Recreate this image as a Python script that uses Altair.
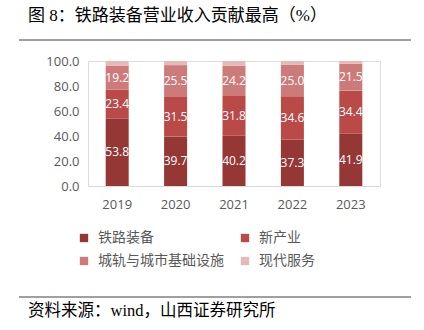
import altair as alt
import pandas as pd

years = ["2019", "2020", "2021", "2022", "2023"]
series = ["铁路装备", "新产业", "城轨与城市基础设施", "现代服务"]
rail = [53.8, 39.7, 40.2, 37.3, 41.9]
new_ind = [23.4, 31.5, 31.8, 34.6, 34.4]
urban = [19.2, 25.5, 24.2, 25.0, 21.5]
modern = [3.6, 3.3, 3.8, 3.1, 2.2]
colors = ["#953735", "#b94a48", "#cd7b7a", "#e6b9b8"]

title_text = "图 8：铁路装备营业收入贡献最高（%）"
source_text = "资料来源：wind，山西证券研究所"

rows = []
for i, y in enumerate(years):
    for j, (s, vals) in enumerate(zip(series, [rail, new_ind, urban, modern])):
        rows.append({"year": y, "series": s, "value": vals[i], "order": j,
                     "show": 1 if j < 3 else 0})
df = pd.DataFrame(rows)

PL, PT, W, H = 88, 61, 292, 125
cjk = "Liberation Serif, Noto Sans CJK SC"
num = "Open Sans, Noto Sans CJK SC"

xscale = alt.Scale(paddingInner=0.6, paddingOuter=0.3)
yscale = alt.Scale(domain=[0, 100])
xaxis = alt.Axis(labelAngle=0, labelFont=num, labelFontSize=13,
                 labelColor="#595959", domainColor="#d9d9d9",
                 ticks=False, labelPadding=12)
yaxis = alt.Axis(values=[0, 20, 40, 60, 80, 100], format=".1f",
                 grid=False, domain=False, ticks=False, labelOverlap=False,
                 labelFont=num, labelFontSize=13, labelColor="#595959",
                 labelPadding=9)

base = alt.Chart(df)

bars = base.mark_bar(size=23).encode(
    x=alt.X("year:N", sort=years, title=None, scale=xscale, axis=xaxis),
    y=alt.Y("value:Q", stack="zero", title=None, scale=yscale, axis=yaxis),
    color=alt.Color("series:N", sort=series,
                    scale=alt.Scale(domain=series, range=colors),
                    legend=alt.Legend(title=None, orient="none", legendX=-11,
                                      legendY=170, columns=2, columnPadding=14,
                                      direction="horizontal",
                                      rowPadding=9, symbolType="square",
                                      symbolSize=70, symbolStrokeWidth=0,
                                      labelFont=cjk, labelFontSize=14,
                                      labelColor="#595959", labelOffset=7)),
    order=alt.Order("order:Q"),
)

labels = base.transform_stack(
    stack="value", groupby=["year"], as_=["v0", "v1"],
    sort=[alt.SortField("order", order="ascending")]
).transform_filter("datum.show == 1").transform_calculate(
    mid="(datum.v0 + datum.v1) / 2"
).mark_text(color="white", font=num, fontSize=12).encode(
    x=alt.X("year:N", sort=years, title=None, scale=xscale, axis=xaxis),
    y=alt.Y("mid:Q", title=None, scale=yscale, axis=yaxis),
    text=alt.Text("value:Q", format=".1f"),
)

tdf = pd.DataFrame({"t": [title_text]})
title = alt.Chart(tdf).mark_text(align="left", baseline="middle", font=cjk,
                                 fontSize=17, color="#000000").encode(
    x=alt.value(28 - PL), y=alt.value(16 - PT), text="t:N")
sdf = pd.DataFrame({"t": [source_text]})
source = alt.Chart(sdf).mark_text(align="left", baseline="middle", font=cjk,
                                  fontSize=16.5, color="#000000").encode(
    x=alt.value(28 - PL), y=alt.value(311 - PT), text="t:N")

line1 = alt.Chart(tdf).mark_rule(color="#404040", strokeWidth=1).encode(
    x=alt.value(19 - PL), x2=alt.value(411 - PL), y=alt.value(40 - PT))
line2 = alt.Chart(tdf).mark_rule(color="#404040", strokeWidth=1).encode(
    x=alt.value(19 - PL), x2=alt.value(411 - PL), y=alt.value(297 - PT))

chart = alt.layer(bars, labels, title, source, line1, line2).properties(
    width=W, height=H,
    autosize=alt.AutoSizeParams(type="none"),
    padding={"left": PL, "top": PT, "right": 424 - PL - W, "bottom": 330 - PT - H},
).configure_view(stroke=None).configure(background="white")

chart.save("out.html", embed_options={"renderer": "svg", "actions": False})
